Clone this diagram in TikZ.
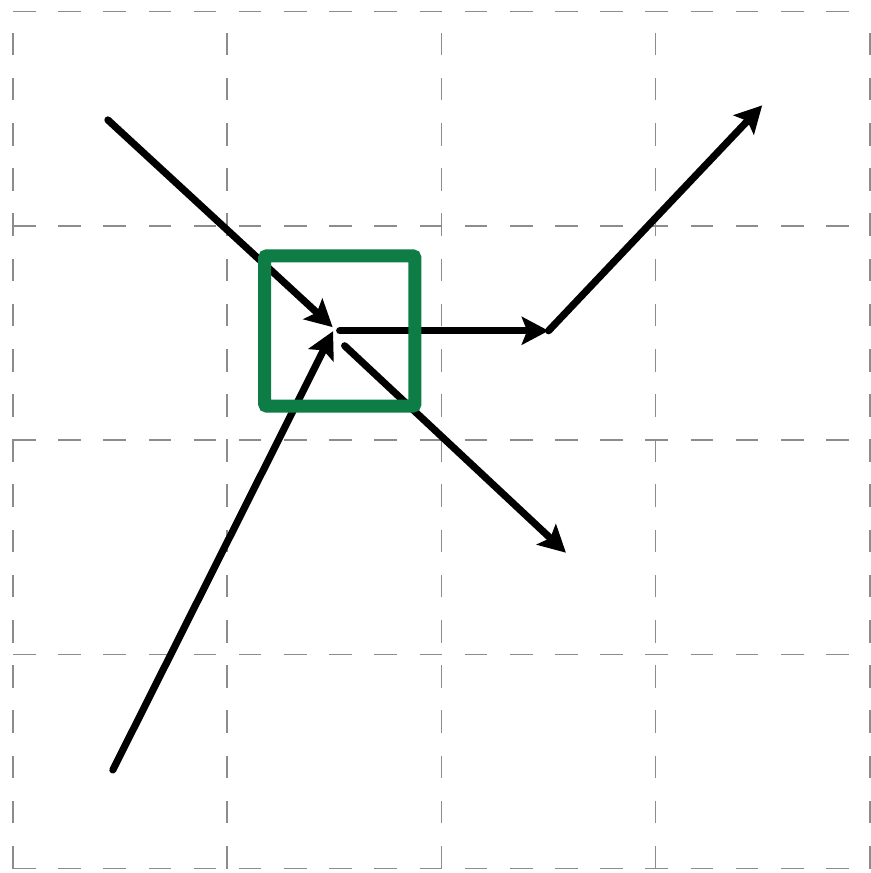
\documentclass[tikz,border=0pt]{standalone}
\usetikzlibrary{arrows.meta}
\definecolor{boxgreen}{RGB}{14,124,69}
\tikzset{
  gridlines/.style={draw=gray!90, line width=0.2pt, dashed},
  vec/.style={draw=black, line width=0.95pt, line cap=round,
    -{Stealth[length=1.25mm, width=1.3mm, inset=0.25mm]}},
  greenbox/.style={draw=boxgreen, line width=1.72pt, rounded corners=0.3pt}
}
\begin{document}
\begin{tikzpicture}
\useasboundingbox (-0.0606,-0.021) rectangle (4.0047,4.054);
\draw[gridlines] (0,0) grid (4,4);
\coordinate (p1) at (0.443,3.494);
\coordinate (p2) at (0.466,0.460);
\coordinate (t1) at (1.492,2.527);
\coordinate (t2) at (1.494,2.508);
\coordinate (h0) at (1.525,2.51);
\coordinate (h1) at (2.5,2.51);
\coordinate (u1) at (3.497,3.562);
\coordinate (d0) at (1.548,2.44);
\coordinate (d1) at (2.581,1.474);
\draw[vec] (p1) -- (t1);
\draw[vec] (p2) -- (t2);
\draw[vec] (h0) -- (h1);
\draw[vec] (h1) -- (u1);
\draw[vec] (d0) -- (d1);
\draw[greenbox] (1.175,2.158) rectangle (1.876,2.86);
\end{tikzpicture}
\end{document}
